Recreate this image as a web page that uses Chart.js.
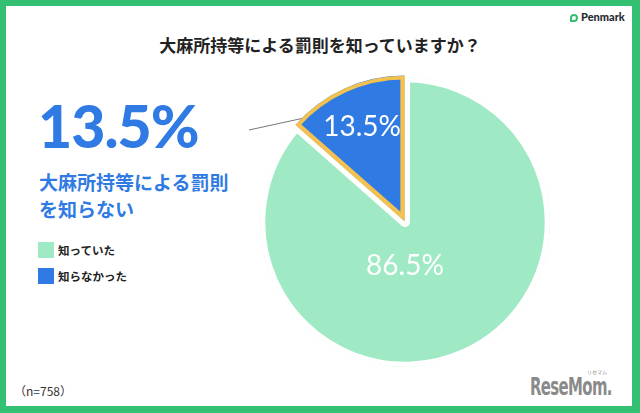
<!DOCTYPE html>
<html lang="ja">
<head>
<meta charset="utf-8">
<script src="https://cdn.jsdelivr.net/npm/chart.js@4.4.1/dist/chart.umd.min.js"></script>
<style>
  html, body { margin: 0; padding: 0; background: #fff; }
  body { width: 640px; height: 413px; position: relative; overflow: hidden;
         font-family: "Noto Sans CJK JP", "Noto Sans", sans-serif; }
  .frame { position: absolute; left: 0; top: 0; width: 640px; height: 413px;
           box-sizing: border-box; border: 6px solid #34c073; border-right-width: 8px; border-bottom-width: 7px; }
  .title { position: absolute; left: 0; width: 640px; top: 33px; text-align: center;
           font-size: 17px; font-weight: 700; color: #222; line-height: 24px; }
  .penmark { position: absolute; left: 570px; top: 10px; font-family: Lato, "Noto Sans", sans-serif;
             font-size: 11px; font-weight: 900; color: #1f2a30; line-height: 14px; }
  .penmark i { display: inline-block; border: 2px solid #34c073; border-radius: 50% 50% 50% 10%;
               margin-right: 3px; vertical-align: -1px; box-sizing: border-box; width: 8px; height: 8px; }
  .big { position: absolute; left: 38px; top: 91px; font-family: Lato, sans-serif; font-weight: 900;
         font-size: 59px; line-height: 70px; color: #2f7be3; letter-spacing: -1px; }
  .sub { position: absolute; left: 39px; top: 168px; font-size: 19px; font-weight: 700; line-height: 27px; color: #2f7be3; }
  .legend { position: absolute; left: 38px; top: 242px; font-size: 11.5px; font-weight: 700; color: #222; }
  .legend div { height: 16px; line-height: 16px; margin-bottom: 10px; }
  .legend span { display: inline-block; width: 16px; height: 16px; vertical-align: top; margin-right: 4px; }
  .n { position: absolute; left: 14px; top: 382px; font-size: 12px; color: #333; line-height: 18px; }
  .rm { position: absolute; left: 530px; top: 374px; font-family: "DejaVu Sans", sans-serif; transform-origin: 0 0;
        font-weight: 700; font-size: 24px; color: #8a8a8a; line-height: 26px; letter-spacing: -1px; white-space: nowrap; }
  .rmk { position: absolute; left: 587px; top: 369px; font-size: 5px; color: #8a8a8a; line-height: 6px; }
  #pie { position: absolute; left: 257px; top: 74px; }
  svg { position: absolute; left: 0; top: 0; }
</style>
</head>
<body>
<div class="frame"></div>
<div class="penmark"><i></i>Penmark</div>
<div class="title">大麻所持等による罰則を知っていますか？</div>
<div class="big" id="big"></div>
<div class="sub">大麻所持等による罰則<br>を知らない</div>
<div class="legend" id="legend"></div>
<div class="n" id="n"></div>
<div class="rm" id="rm">ReseMom.</div>
<div class="rmk">リセマム</div>
<svg width="640" height="413"><line x1="249" y1="130" x2="304" y2="118" stroke="#777" stroke-width="1"/></svg>
<canvas id="pie" width="296" height="296"></canvas>
<script>
const categories = ['知っていた', '知らなかった'];
const shares = [86.5, 13.5];
const sampleSize = 758;
const sliceColors = ['#9fe9c4', '#2f7be3'];

document.getElementById('big').textContent = shares[1].toFixed(1) + '%';
document.getElementById('n').textContent = '（n=' + sampleSize + '）';
document.getElementById('legend').innerHTML = categories.map((c, i) =>
  '<div><span style="background:' + sliceColors[i] + '"></span>' + c + '</div>').join('');

// squeeze the logo text to its width in the picture
const rm = document.getElementById('rm');
rm.style.transform = 'scaleX(' + (82 / rm.offsetWidth) + ')';

// labels inside slices
const sliceLabels = {
  id: 'sliceLabels',
  afterDatasetsDraw(chart, args, opts) {
    const ctx = chart.ctx;
    const meta = chart.getDatasetMeta(0);
    meta.data.forEach((arc, i) => {
      const p = arc.getProps(['x', 'y', 'startAngle', 'endAngle', 'outerRadius']);
      const pos = opts.positions[i];
      const ang = pos.angle != null ? pos.angle * Math.PI / 180 : (p.startAngle + p.endAngle) / 2;
      const r = p.outerRadius * pos.r;
      ctx.save();
      ctx.font = '28px Lato, sans-serif';
      ctx.fillStyle = '#fff';
      ctx.textAlign = 'center';
      ctx.textBaseline = 'middle';
      ctx.fillText(shares[i].toFixed(1) + '%', p.x + Math.cos(ang) * r, p.y + Math.sin(ang) * r);
      ctx.restore();
    });
  }
};

new Chart(document.getElementById('pie'), {
  type: 'pie',
  data: {
    labels: categories,
    datasets: [{
      data: shares,
      backgroundColor: sliceColors,
      borderColor: ['#ffffff', '#f3c14f'],
      borderWidth: [5, 4],
      borderAlign: 'inner',
      offset: [0, 6]
    }]
  },
  options: {
    responsive: false,
    animation: false,
    devicePixelRatio: 1,
    plugins: {
      legend: { display: false },
      tooltip: { enabled: false },
      sliceLabels: { positions: [{ angle: 90, r: 0.3 }, { r: 0.72 }] }
    }
  },
  plugins: [sliceLabels]
});
</script>
</body>
</html>
